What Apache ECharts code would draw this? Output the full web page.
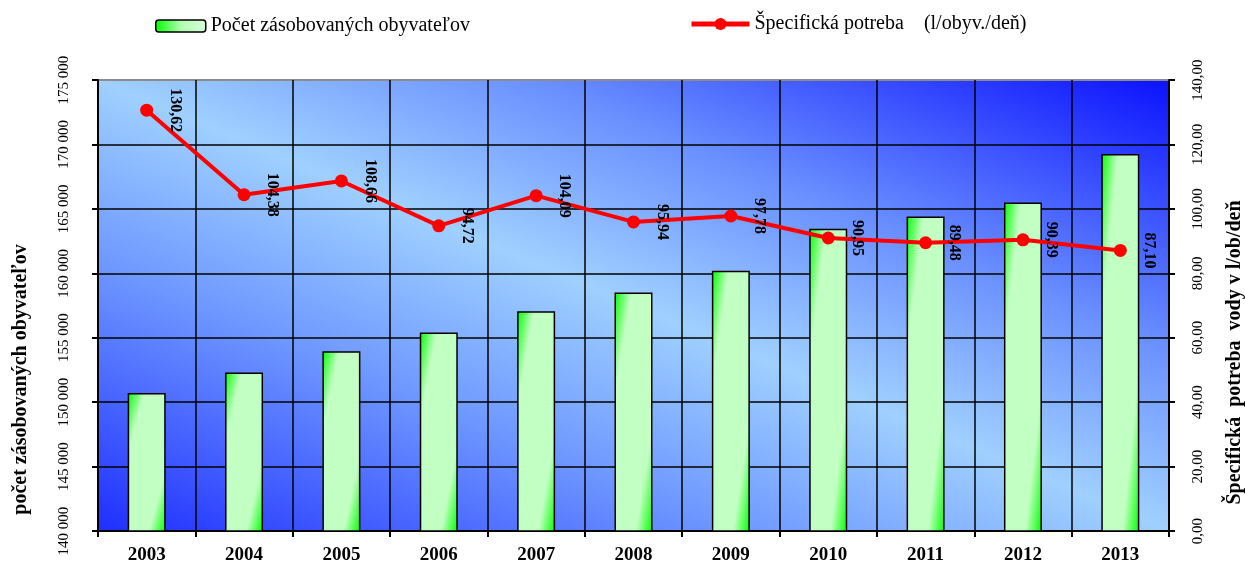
<!DOCTYPE html>
<html>
<head>
<meta charset="utf-8">
<script src="https://cdn.jsdelivr.net/npm/echarts@6/dist/echarts.min.js"></script>
<style>html,body{margin:0;padding:0;background:#fff}#c{width:1245px;height:564px}</style>
</head>
<body>
<div id="c"></div>
<script>
var years = ['2003','2004','2005','2006','2007','2008','2009','2010','2011','2012','2013'];
var population = [150700, 152300, 153950, 155400, 157050, 158500, 160200, 163450, 164400, 165500, 169250];
var demand = [130.62, 104.38, 108.66, 94.72, 104.09, 95.94, 97.78, 90.95, 89.48, 90.39, 87.10];
var barName = 'Počet zásobovaných obyvateľov';
var lineName = 'Špecifická potreba    (l/obyv./deň)';
var leftAxisName = 'počet zásobovaných obyvateľov';
var rightAxisName = 'Špecifická  potreba  vody v l/ob/deň';

var FONT = '"Liberation Serif", "Times New Roman", serif';
var chart = echarts.init(document.getElementById('c'), null, {renderer: 'canvas'});

function bgGradient() {
  return new echarts.graphic.LinearGradient(0, 1, 0.3012, -0.6988, [
    {offset: 0, color: '#1e2eff'},
    {offset: 0.3, color: '#6f98ff'},
    {offset: 0.5, color: '#9fd0ff'},
    {offset: 0.7, color: '#6a90ff'},
    {offset: 1, color: '#0a10ff'}
  ]);
}
function barGradient(w, h) {
  var s = w * w + h * h;
  return new echarts.graphic.LinearGradient(0, 0, 2 * h * h / s, 2 * w * w / s, [
    {offset: 0, color: '#00ff00'},
    {offset: 0.22, color: '#c2ffc2'},
    {offset: 0.78, color: '#c2ffc2'},
    {offset: 1, color: '#00ff00'}
  ]);
}
var legendBarColor = new echarts.graphic.LinearGradient(0, 0, 1, 0, [
  {offset: 0, color: '#00ff00'}, {offset: 0.5, color: '#b0ffb0'}, {offset: 1, color: '#d8ffd8'}
]);

function fmtThousands(v) { return String(v).replace(/\B(?=(\d{3})+(?!\d))/g, ' '); }
function fmtDec(v) { return Number(v).toFixed(2).replace('.', ','); }

var option = {
  animation: false,
  textStyle: {fontFamily: FONT, color: '#000'},
  legend: [
    {data: [barName], left: 150, top: 11, itemWidth: 50, itemHeight: 12, itemGap: 8,
     textStyle: {fontFamily: FONT, fontSize: 20, color: '#000'},
     itemStyle: {borderColor: '#000', borderWidth: 1.5}},
    {data: [lineName], left: 684, top: 9, itemWidth: 58, itemHeight: 15,
     lineStyle: {width: 5},
     textStyle: {fontFamily: FONT, fontSize: 20, color: '#000'}}
  ],
  grid: {left: 98, right: 76, top: 80, bottom: 33, show: true, containLabel: false, outerBoundsMode: 'none',
         backgroundColor: bgGradient(), borderColor: '#8c8c8c', borderWidth: 2},
  xAxis: {
    type: 'category', data: years, boundaryGap: true,
    axisLine: {lineStyle: {color: '#000', width: 2}},
    axisTick: {show: true, length: 6, lineStyle: {color: '#000', width: 2}},
    splitLine: {show: true, lineStyle: {color: '#000', width: 1.5}},
    axisLabel: {fontFamily: FONT, fontSize: 19, fontWeight: 'bold', color: '#000', margin: 15}
  },
  yAxis: [
    {type: 'value', min: 140000, max: 175000, interval: 5000, position: 'left',
     name: leftAxisName, nameLocation: 'middle', nameRotate: 90, nameGap: 67,
     nameTextStyle: {fontFamily: FONT, fontSize: 20, fontWeight: 'bold', color: '#000', padding: [0, 148, 0, 0]},
     axisLine: {show: true, lineStyle: {color: '#000', width: 2}},
     axisTick: {show: true, length: 6, lineStyle: {color: '#000', width: 2}},
     splitLine: {show: true, showMaxLine: false, lineStyle: {color: '#000', width: 1.5}},
     axisLabel: {fontFamily: FONT, fontSize: 15, color: '#000', rotate: 90, margin: 26, formatter: fmtThousands}},
    {type: 'value', min: 0, max: 140, interval: 20, position: 'right',
     name: rightAxisName, nameLocation: 'middle', nameRotate: 90, nameGap: 56,
     nameTextStyle: {fontFamily: FONT, fontSize: 20, fontWeight: 'bold', color: '#000', padding: [0, 94, 0, 0]},
     axisLine: {show: true, lineStyle: {color: '#000', width: 2}},
     axisTick: {show: true, length: 6, lineStyle: {color: '#000', width: 2}},
     splitLine: {show: false},
     axisLabel: {fontFamily: FONT, fontSize: 15, color: '#000', rotate: 90, margin: 22, formatter: fmtDec}}
  ],
  series: [
    {name: barName, type: 'bar', yAxisIndex: 0, barWidth: 38, data: population,
     itemStyle: {color: legendBarColor, borderColor: '#000', borderWidth: 1.5}, z: 2},
    {name: lineName, type: 'line', yAxisIndex: 1, data: demand, z: 5,
     symbol: 'circle', symbolSize: 13,
     lineStyle: {color: '#ff0000', width: 4}, itemStyle: {color: '#ff0000'},
     label: {show: true, position: 'right', distance: 22, align: 'center', verticalAlign: 'middle',
             rotate: -90, fontFamily: FONT, fontSize: 16, fontWeight: 'bold', color: '#000',
             formatter: function (p) { return fmtDec(p.value); }}}
  ]
};
chart.setOption(option);

// per-bar diagonal gradient (style only, sized from the rendered bar)
var base = chart.convertToPixel({yAxisIndex: 0}, 140000);
var barData = population.map(function (v) {
  var h = Math.max(1, base - chart.convertToPixel({yAxisIndex: 0}, v));
  return {value: v, itemStyle: {color: barGradient(38, h)}};
});
chart.setOption({series: [{name: barName, data: barData}]});
</script>
</body>
</html>
